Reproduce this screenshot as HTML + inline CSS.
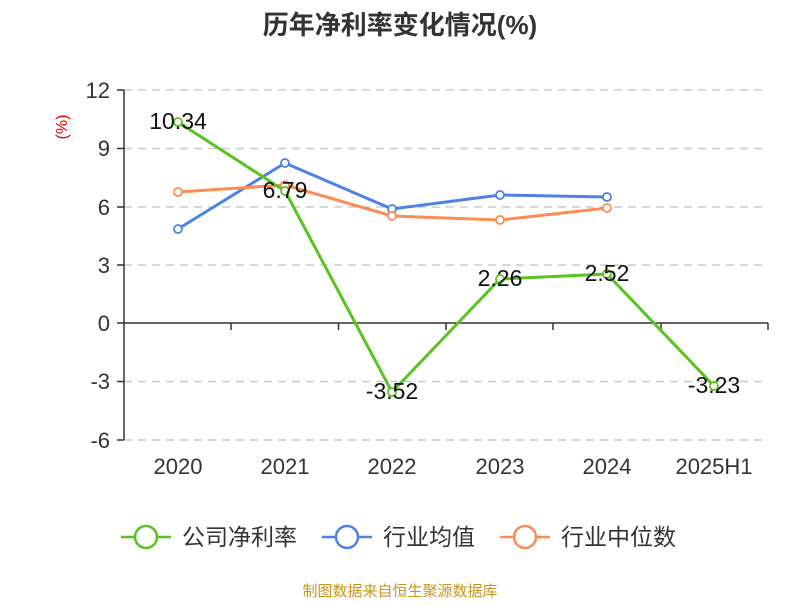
<!DOCTYPE html><html><head><meta charset="utf-8"><style>body{margin:0;background:#fff}</style></head><body>
<svg width="800" height="600" xmlns="http://www.w3.org/2000/svg" font-family="Liberation Sans, Noto Sans CJK SC, sans-serif">
<text x="400" y="34" text-anchor="middle" font-size="26" font-weight="bold" fill="#333">历年净利率变化情况(%)</text>
<text x="70" y="127" font-size="16" fill="#e00" transform="rotate(-90 70 127)" text-anchor="middle" dy="-3">(%)</text>
<g stroke="#ccc" stroke-dasharray="8,6" stroke-width="1.5">
<line x1="124" y1="90" x2="768" y2="90"/><line x1="124" y1="148.5" x2="768" y2="148.5"/><line x1="124" y1="207" x2="768" y2="207"/><line x1="124" y1="265" x2="768" y2="265"/><line x1="124" y1="381.5" x2="768" y2="381.5"/><line x1="124" y1="440" x2="768" y2="440"/></g>
<g stroke="#333" stroke-width="1.5" fill="none">
<line x1="124" y1="90" x2="124" y2="440"/><line x1="124" y1="323" x2="768" y2="323"/>
<path d="M117 90H124M117 148.5H124M117 207H124M117 265H124M117 323H124M117 381.5H124M117 440H124"/>
<path d="M231 323V330M338.5 323V330M446 323V330M553 323V330M661 323V330M768 323V330"/></g>
<g font-size="22" fill="#333" text-anchor="end">
<text x="110" y="98">12</text><text x="110" y="156">9</text><text x="110" y="215">6</text><text x="110" y="273">3</text><text x="110" y="331">0</text><text x="110" y="389">-3</text><text x="110" y="448">-6</text></g>
<g font-size="22" fill="#333" text-anchor="middle">
<text x="178" y="474">2020</text><text x="285" y="474">2021</text><text x="392" y="474">2022</text><text x="500" y="474">2023</text><text x="607" y="474">2024</text><text x="714" y="474">2025H1</text></g>
<g fill="none" stroke-width="3">
<polyline stroke="#4e80e6" points="178,229 285,163 392,209 500,195 607,197"/>
<polyline stroke="#fb8c55" points="178,192 285,185 392,216 500,220 607,208"/>
<polyline stroke="#5ac31e" points="178,122 285,191 392,392 500,279 607,274 714,386"/></g>
<g fill="#fff" stroke-width="1.8">
<g stroke="#4e80e6"><circle cx="178" cy="229" r="4"/><circle cx="285" cy="163" r="4"/><circle cx="392" cy="209" r="4"/><circle cx="500" cy="195" r="4"/><circle cx="607" cy="197" r="4"/></g>
<g stroke="#fb8c55"><circle cx="178" cy="192" r="4"/><circle cx="285" cy="185" r="4"/><circle cx="392" cy="216" r="4"/><circle cx="500" cy="220" r="4"/><circle cx="607" cy="208" r="4"/></g>
<g stroke="#5ac31e"><circle cx="178" cy="122" r="4"/><circle cx="285" cy="191" r="4"/><circle cx="392" cy="392" r="4"/><circle cx="500" cy="279" r="4"/><circle cx="607" cy="274" r="4"/><circle cx="714" cy="386" r="4"/></g></g>
<g font-size="23" fill="#111" text-anchor="middle">
<text x="178" y="129">10.34</text><text x="285" y="198">6.79</text><text x="392" y="399">-3.52</text><text x="500" y="286">2.26</text><text x="607" y="281">2.52</text><text x="714" y="393">-3.23</text></g>
<g stroke-width="2.5" fill="#fff">
<line x1="121" y1="537" x2="171" y2="537" stroke="#5ac31e"/><circle cx="146" cy="537" r="11" stroke="#5ac31e"/>
<line x1="322" y1="537" x2="372" y2="537" stroke="#4e80e6"/><circle cx="347" cy="537" r="11" stroke="#4e80e6"/>
<line x1="500" y1="537" x2="550" y2="537" stroke="#fb8c55"/><circle cx="525" cy="537" r="11" stroke="#fb8c55"/></g>
<g font-size="23" fill="#333"><text x="182" y="545">公司净利率</text><text x="383" y="545">行业均值</text><text x="561" y="545">行业中位数</text></g>
<text x="400" y="596" text-anchor="middle" font-size="15" fill="#c8961e">制图数据来自恒生聚源数据库</text>
</svg></body></html>
